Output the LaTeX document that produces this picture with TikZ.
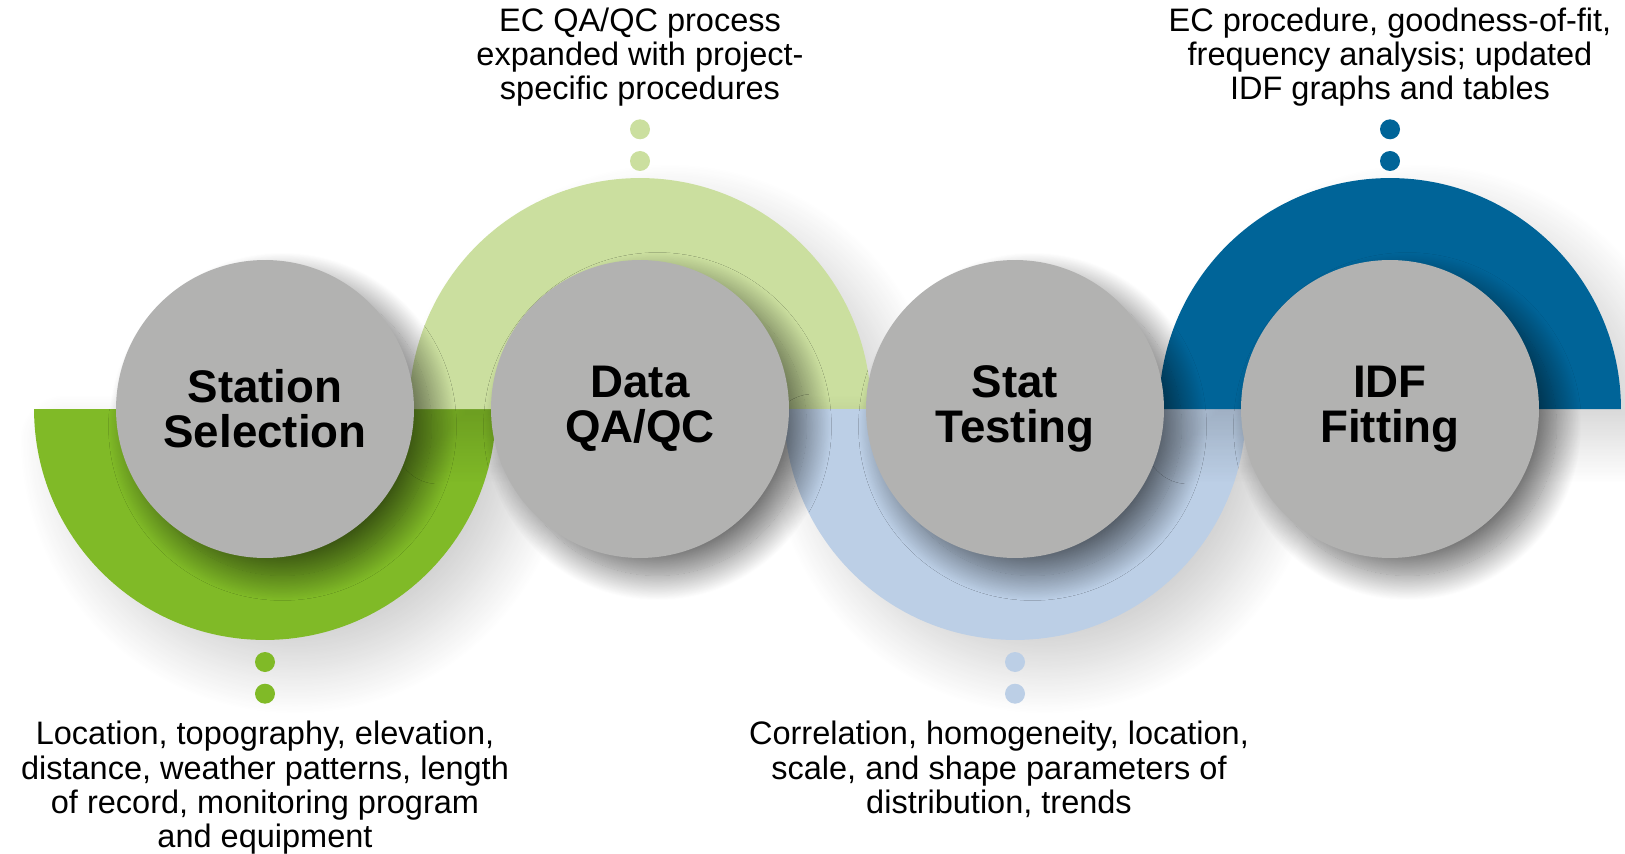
\documentclass[tikz,border=0pt]{standalone}
\usepackage{fontspec}
\setmainfont{Liberation Sans}
\usepackage{xcolor}
\usetikzlibrary{positioning}
\usetikzlibrary{shadows.blur}
\definecolor{stationgreen}{RGB}{128,186,39}
\definecolor{qcgreen}{RGB}{203,223,159}
\definecolor{statblue}{RGB}{188,207,230}
\definecolor{idfblue}{RGB}{0,100,152}
\definecolor{stagegray}{RGB}{178,178,177}
\tikzset{stage/.style={circle, fill=stagegray, minimum size=5.96cm, inner sep=0pt, align=center,
font=\fontsize{26}{25.5}\selectfont\bfseries,
blur shadow={shadow xshift=.35cm, shadow yshift=-.35cm, shadow blur radius=.5cm, shadow opacity=55, shadow blur steps=30}},
halfdisc/.style={blur shadow={shadow xshift=.6cm, shadow yshift=-.6cm, shadow blur radius=.9cm, shadow opacity=18, shadow blur steps=30}},
stagedot/.style={circle, minimum size=.4cm, inner sep=0pt},
stagenote/.style={align=center, inner sep=0pt, font=\fontsize{18.5}{19.5}\selectfont}}

\begin{document}
\begin{tikzpicture}[x=0.02cm, y=0.02cm]
	\useasboundingbox (0,0) rectangle (1625,853);
	\coordinate (c1) at (265,444);
	\coordinate (c2) at (640,444);
	\coordinate (c3) at (1015,444);
	\coordinate (c4) at (1390,444);
	% half rings behind the stages
	\fill[stationgreen, halfdisc] (c1) ++(-4.62cm,0) arc[start angle=180, end angle=360, radius=4.62cm] -- cycle;
	\fill[qcgreen, halfdisc] (c2) ++(4.62cm,0) arc[start angle=0, end angle=180, radius=4.62cm] -- cycle;
	\fill[statblue, halfdisc] (c3) ++(-4.62cm,0) arc[start angle=180, end angle=360, radius=4.62cm] -- cycle;
	\fill[idfblue, halfdisc] (c4) ++(4.62cm,0) arc[start angle=0, end angle=180, radius=4.62cm] -- cycle;
	\node[stage] (station) at (c1) {Station\\Selection};
	\node[stage] (dataqc) at (c2) {Data\\QA/QC};
	\node[stage] (stat) at (c3) {Stat\\Testing};
	\node[stage] (idf) at (c4) {IDF\\Fitting};
	% dots and notes
	\node[stagedot, fill=stationgreen] (sdot1) at (265,191) {};
	\node[stagedot, fill=stationgreen, below=.22cm of sdot1] (sdot2) {};
	\node[stagenote, below=.34cm of sdot2] (stationnote) {Location, topography, elevation,\\distance, weather patterns, length\\of record, monitoring program\\and equipment};
	\node[stagedot, fill=qcgreen] (qdot2) at (640,692) {};
	\node[stagedot, fill=qcgreen, above=.22cm of qdot2] (qdot1) {};
	\node[stagenote, above=.24cm of qdot1] (qcnote) {EC QA/QC process\\expanded with project-\\specific procedures};
	\node[stagedot, fill=statblue] (tdot1) at (1015,191) {};
	\node[stagedot, fill=statblue, below=.22cm of tdot1] (tdot2) {};
	\node[stagenote, below=.34cm of tdot2, xshift=-.32cm] (statnote) {Correlation, homogeneity, location,\\scale, and shape parameters of\\distribution, trends};
	\node[stagedot, fill=idfblue] (idot2) at (1390,692) {};
	\node[stagedot, fill=idfblue, above=.22cm of idot2] (idot1) {};
	\node[stagenote, above=.24cm of idot1] (idfnote) {EC procedure, goodness-of-fit,\\frequency analysis; updated\\IDF graphs and tables};
\end{tikzpicture}
\end{document}
